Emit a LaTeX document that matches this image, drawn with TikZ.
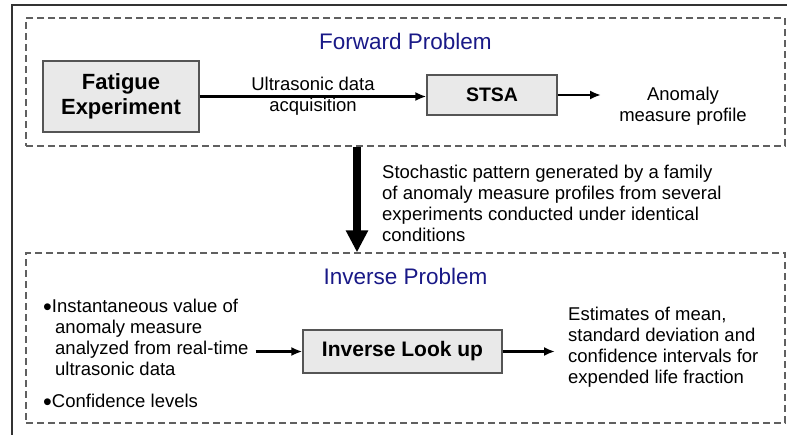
\documentclass[tikz,border=0pt]{standalone}
\usepackage{fontspec}
\setmainfont{Liberation Sans}
\usetikzlibrary{arrows.meta,positioning}
\definecolor{navy}{RGB}{25,25,135}
\definecolor{boxfill}{RGB}{233,233,233}
\definecolor{boxline}{RGB}{85,85,85}
\newcommand{\bigdot}{\raisebox{-3pt}{\fontsize{25}{21}\selectfont\textbullet}}

\begin{document}
\begin{tikzpicture}[x=1pt, y=-1pt,
 dbox/.style={draw=gray!75!black, line width=1.3pt, dash pattern=on 7pt off 4pt, minimum width=759pt, inner sep=0pt},
 ttl/.style={text=navy, font=\fontsize{22.5}{26}\selectfont, anchor=base, inner sep=0pt},
 blk/.style={draw=boxline, fill=boxfill, line width=1.2pt, align=center, inner sep=0pt},
 txt/.style={font=\fontsize{18.5}{21}\selectfont, inner sep=0pt, align=left},
 arr/.style={-{Latex[length=11pt,width=9pt]}, line width=2.2pt},
 bigarr/.style={-{Triangle[length=22pt,width=21pt]}, line width=8pt}]
\useasboundingbox (0,0) rectangle (787,434);
\draw[line width=1.8pt, black!80] (12,440) -- (12,5) -- (795,5);
%dashed frames and their titles
\foreach \n/\top/\h/\t in {fwd/18/128/Forward Problem,inv/253/170/Inverse Problem}{
\node[dbox, minimum height=\h pt] (\n) at (405.5,{\top+\h/2}) {};
\node[ttl] (\n t) at (405.5,{\top+31}) {\t};}
%forward problem
\node[blk, minimum width=156pt, minimum height=71pt, font=\bfseries\fontsize{22}{25}\selectfont] (fatigue) at (121,96.5) {Fatigue\\Experiment};
\node[blk, minimum width=130pt, minimum height=40pt, font=\bfseries\fontsize{19.5}{22}\selectfont] (stsa) at (492,95) {STSA};
\node[txt, align=center, anchor=north] (profile) at (683,86.5) {Anomaly\\measure profile};
\draw[arr] (fatigue.east) -- node[txt, align=center] (acq) {Ultrasonic data\\acquisition} (fatigue.east -| stsa.west);
\draw[arr, shorten >=18pt] (stsa.east) -- (stsa.east -| profile.west);
%between the two
\node[txt, anchor=north west] (stoch) at (382,164.5) {Stochastic pattern generated by a family\\of anomaly measure profiles from several\\experiments conducted under identical\\conditions};
\coordinate (bigx) at (357,0);
\draw[bigarr] (fwd.south -| bigx) -- (inv.north -| bigx);
%inverse problem
\node[blk, minimum width=199pt, minimum height=43pt, font=\bfseries\fontsize{21}{24}\selectfont] (lookup) at (402.5,351.5) {Inverse Look up};
\node[txt, anchor=north west] (inputs) at (43,298.5) {\bigdot Instantaneous value of\\\hspace*{12pt}anomaly measure\\\hspace*{12pt}analyzed from real-time\\\hspace*{12pt}ultrasonic data};
\node[txt, anchor=base west] (conf) at (43,407) {\bigdot Confidence levels};
\node[txt, anchor=north west] (estimates) at (568,306.5) {Estimates of mean,\\standard deviation and\\confidence intervals for\\expended life fraction};
\draw[arr, shorten <=7pt] (inputs.east |- lookup.west) -- (lookup.west);
\draw[arr, shorten >=13pt] (lookup.east) -- (lookup.east -| estimates.west);
\end{tikzpicture}
\end{document}
